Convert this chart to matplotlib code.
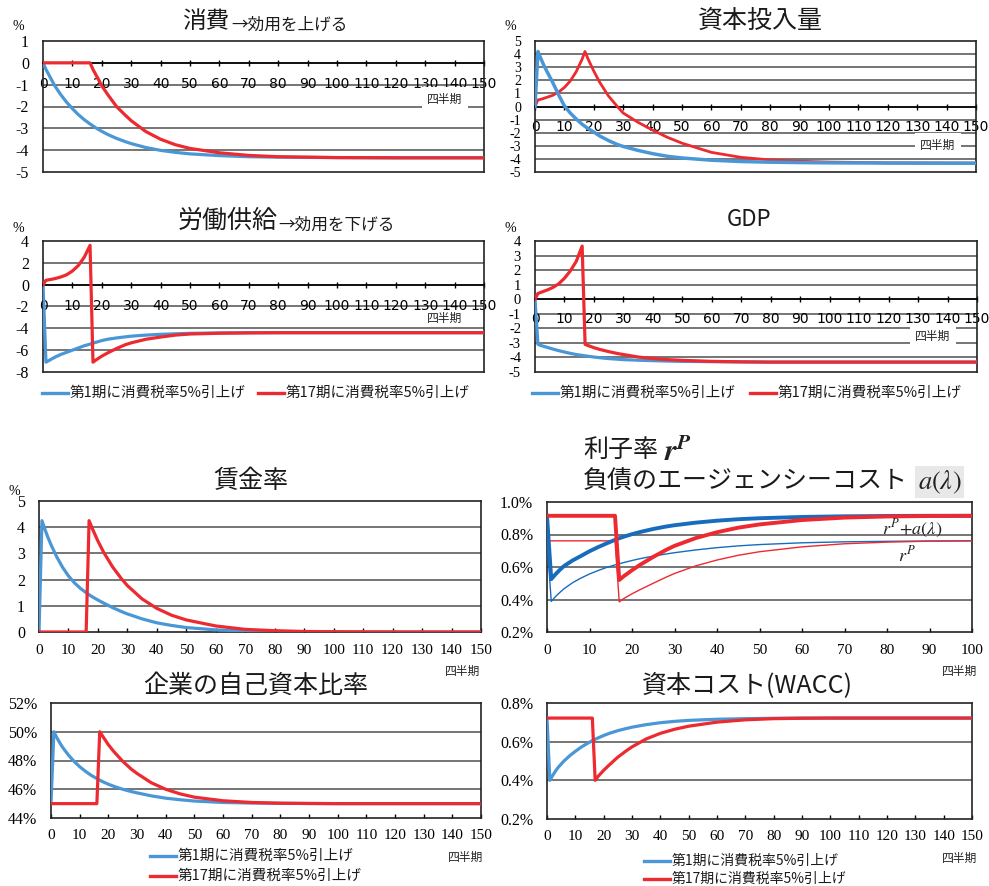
import matplotlib
matplotlib.use("Agg")
import matplotlib.pyplot as plt
import numpy as np
from matplotlib.lines import Line2D

W, H = 989, 886
JP = ["Noto Sans CJK JP", "DejaVu Sans"]
NUM = "Liberation Serif"
BLUE = "#4a97d7"
DBLUE = "#176cbd"
RED = "#ec2a30"
GRID = "#505050"

# quarters
t = [0, 1, 2, 3, 4, 6, 8, 10, 12, 14, 16, 17, 18, 20, 22, 25, 28, 30, 35, 40,
     45, 50, 60, 70, 80, 90, 100, 120, 150]
t100 = t[:27]

legend_1 = "第1期に消費税率5%引上げ"
legend_17 = "第17期に消費税率5%引上げ"

# 消費
cons_1 = [0, -0.3, -0.55, -0.8, -1.05, -1.45, -1.8, -2.1, -2.37, -2.6, -2.8, -2.89, -2.98, -3.14,
          -3.28, -3.46, -3.61, -3.7, -3.88, -4.01, -4.1, -4.17, -4.25, -4.3, -4.32, -4.33, -4.34,
          -4.35, -4.35]
cons_17 = [0, 0, 0, 0, 0, 0, 0, 0, 0, 0, 0, -0.3, -0.55, -1.05, -1.45, -2.0, -2.4, -2.65, -3.15,
           -3.5, -3.75, -3.92, -4.12, -4.24, -4.3, -4.32, -4.34, -4.35, -4.35]
# 資本投入量
cap_1 = [0, 4.2, 3.65, 3.15, 2.7, 1.85, 0.9, 0.05, -0.5, -0.95, -1.35, -1.52, -1.68, -1.95, -2.25,
         -2.6, -2.9, -3.05, -3.35, -3.6, -3.8, -3.93, -4.1, -4.2, -4.25, -4.28, -4.3, -4.32, -4.33]
cap_17 = [0, 0.5, 0.55, 0.62, 0.7, 0.85, 1.1, 1.45, 1.95, 2.65, 3.6, 4.2, 3.65, 2.7, 1.85, 0.8, 0.0,
          -0.5, -1.2, -1.8, -2.35, -2.8, -3.5, -3.88, -4.08, -4.18, -4.24, -4.3, -4.32]
# 労働供給
lab_1 = [0, -7.1, -6.95, -6.8, -6.65, -6.4, -6.2, -6.0, -5.8, -5.6, -5.45, -5.35, -5.28, -5.12, -5.0,
         -4.88, -4.78, -4.72, -4.62, -4.55, -4.5, -4.46, -4.42, -4.4, -4.4, -4.4, -4.4, -4.4, -4.4]
lab_17 = [0, 0.4, 0.45, 0.5, 0.55, 0.7, 0.9, 1.25, 1.75, 2.5, 3.6, -7.1, -6.9, -6.55, -6.25, -5.85,
          -5.5, -5.33, -5.0, -4.8, -4.62, -4.52, -4.45, -4.42, -4.4, -4.4, -4.4, -4.4, -4.4]
# GDP
gdp_1 = [0, -3.1, -3.18, -3.24, -3.3, -3.42, -3.53, -3.63, -3.72, -3.8, -3.86, -3.89, -3.92, -3.97,
         -4.02, -4.08, -4.12, -4.15, -4.19, -4.22, -4.25, -4.27, -4.29, -4.31, -4.32, -4.32, -4.32,
         -4.32, -4.32]
gdp_17 = [0, 0.4, 0.47, 0.55, 0.62, 0.8, 1.05, 1.44, 1.95, 2.6, 3.65, -3.1, -3.18, -3.33, -3.45,
          -3.6, -3.73, -3.8, -3.97, -4.08, -4.15, -4.2, -4.27, -4.3, -4.32, -4.32, -4.32, -4.32, -4.32]
# 賃金率
wage_1 = [0, 4.25, 3.92, 3.62, 3.35, 2.87, 2.47, 2.14, 1.88, 1.67, 1.5, 1.42, 1.35, 1.22, 1.1, 0.93,
          0.78, 0.69, 0.5, 0.35, 0.25, 0.17, 0.08, 0.04, 0.02, 0.01, 0, 0, 0]
wage_17 = [0, 0, 0, 0, 0, 0, 0, 0, 0, 0, 0, 4.25, 3.97, 3.47, 3.03, 2.48, 2.03, 1.77, 1.26, 0.9, 0.64,
           0.46, 0.23, 0.1, 0.05, 0.02, 0.01, 0, 0]
# 利子率 r^P + a(λ) (thick) and r^P (thin), %
ra_1 = [0.915, 0.525, 0.555, 0.582, 0.606, 0.64, 0.668, 0.697, 0.722, 0.745, 0.767, 0.777, 0.786,
        0.802, 0.816, 0.834, 0.849, 0.857, 0.873, 0.885, 0.894, 0.9, 0.908, 0.912, 0.914, 0.915, 0.915]
ra_17 = [0.915, 0.915, 0.915, 0.915, 0.915, 0.915, 0.915, 0.915, 0.915, 0.915, 0.915, 0.52, 0.542,
         0.58, 0.615, 0.662, 0.705, 0.73, 0.778, 0.814, 0.842, 0.862, 0.889, 0.904, 0.911, 0.914, 0.915]
rp_1 = [0.761, 0.388, 0.418, 0.443, 0.466, 0.503, 0.532, 0.557, 0.578, 0.597, 0.613, 0.62, 0.627,
        0.64, 0.652, 0.667, 0.68, 0.688, 0.705, 0.719, 0.73, 0.738, 0.749, 0.755, 0.758, 0.76, 0.761]
rp_17 = [0.761, 0.761, 0.761, 0.761, 0.761, 0.761, 0.761, 0.761, 0.761, 0.761, 0.761, 0.385, 0.405,
         0.435, 0.462, 0.5, 0.537, 0.56, 0.607, 0.643, 0.672, 0.694, 0.724, 0.743, 0.753, 0.759, 0.761]
# 企業の自己資本比率, %
eq_1 = [45.0, 50.0, 49.6, 49.25, 48.93, 48.4, 47.95, 47.57, 47.25, 46.97, 46.74, 46.63, 46.53, 46.35,
        46.2, 46.0, 45.84, 45.75, 45.54, 45.38, 45.27, 45.18, 45.08, 45.04, 45.02, 45.01, 45.0, 45.0,
        45.0]
eq_17 = [45.0, 45.0, 45.0, 45.0, 45.0, 45.0, 45.0, 45.0, 45.0, 45.0, 45.0, 50.0, 49.7, 49.1, 48.6,
         47.95, 47.4, 47.1, 46.45, 46.0, 45.68, 45.45, 45.2, 45.08, 45.03, 45.01, 45.0, 45.0, 45.0]
# 資本コスト(WACC), %
wacc_1 = [0.722, 0.40, 0.425, 0.448, 0.468, 0.5, 0.527, 0.55, 0.571, 0.589, 0.605, 0.612, 0.619,
          0.632, 0.643, 0.657, 0.668, 0.675, 0.688, 0.698, 0.705, 0.71, 0.716, 0.719, 0.721, 0.722,
          0.722, 0.722, 0.722]
wacc_17 = [0.722, 0.722, 0.722, 0.722, 0.722, 0.722, 0.722, 0.722, 0.722, 0.722, 0.722, 0.40, 0.42,
           0.452, 0.48, 0.52, 0.553, 0.573, 0.614, 0.643, 0.664, 0.68, 0.701, 0.713, 0.719, 0.721,
           0.722, 0.722, 0.722]


def fx(x):
    return x / W


def fy(y):
    return 1 - y / H


def make_axes(fig, box, xmax, ylim, ystep, yfmt, zero_axis, xpad, ysize=11.5):
    l, top, r, b = box
    ax = fig.add_axes([fx(l), fy(b), (r - l) / W, (b - top) / H])
    ax.set_xlim(0, xmax)
    ax.set_ylim(*ylim)
    yt = np.arange(ylim[0], ylim[1] + ystep / 2, ystep)
    ax.set_yticks(yt)
    ax.set_yticklabels([yfmt(v) for v in yt], family=NUM, fontsize=ysize)
    ax.set_xticks(np.arange(0, xmax + 1, 10))
    ax.set_xticklabels([str(v) for v in range(0, xmax + 1, 10)], family=NUM, fontsize=11)
    for v in yt[1:-1]:
        ax.axhline(v, color=GRID, lw=1.1, zorder=1)
    for s in ax.spines.values():
        s.set_color("#222222")
        s.set_linewidth(1.2)
    ax.tick_params(axis="y", length=0, pad=10)
    if zero_axis:
        ax.spines["bottom"].set_position(("data", 0))
        ax.spines["bottom"].set_color("black")
        ax.axhline(ylim[0], color="#222222", lw=1.2, clip_on=False, zorder=1)
        ax.tick_params(axis="x", direction="inout", length=5, width=1, pad=xpad)
    else:
        ax.tick_params(axis="x", direction="in", length=3, width=1, pad=xpad)
    return ax


def title(x, y, s, size, ha="left", family=JP):
    fig.text(fx(x), fy(y), s, fontsize=size, ha=ha, va="center", family=family, color="#1a1a1a")


def label_q(x, y, box=False):
    kw = {}
    if box:
        kw["bbox"] = dict(boxstyle="square,pad=0.45", fc="white", ec="none")
    fig.text(fx(x), fy(y), "四半期", fontsize=8.5, ha="center", va="center", family=JP,
             color="#222222", zorder=5, **kw)


def legend_row(x, y, color, text, size=10.5):
    fig.add_artist(Line2D([fx(x), fx(x + 26)], [fy(y), fy(y)], transform=fig.transFigure,
                          color=color, lw=2.4))
    fig.text(fx(x + 28), fy(y), text, fontsize=size, ha="left", va="center", family=JP,
             color="#1a1a1a")


fig = plt.figure(figsize=(W / 100, H / 100), dpi=100)
ints = lambda v: "%d" % round(v)

# 消費
ax = make_axes(fig, (43, 41, 484, 172), 150, (-5, 1), 1, ints, True, 8)
ax.plot(t, cons_1, color=BLUE, lw=2.3, zorder=3)
ax.plot(t, cons_17, color=RED, lw=2.3, zorder=3)
title(182, 21, "消費", 17)
title(231, 25, "→効用を上げる", 12)
fig.text(fx(18), fy(27), "%", fontsize=10, family=NUM, ha="center", va="center")
label_q(445, 99, box=True)

# 資本投入量
ax = make_axes(fig, (535, 41, 976, 172), 150, (-5, 5), 1, ints, True, 7, ysize=10)
ax.plot(t, cap_17, color=RED, lw=2.0, zorder=3)
ax.plot(t, cap_1, color=BLUE, lw=2.5, zorder=4)
title(760, 21, "資本投入量", 18, ha="center")
fig.text(fx(510), fy(27), "%", fontsize=10, family=NUM, ha="center", va="center")
label_q(938, 145, box=True)

# 労働供給
ax = make_axes(fig, (43, 241, 484, 372), 150, (-8, 4), 2, ints, True, 8)
ax.plot(t, lab_1, color=BLUE, lw=2.3, zorder=3)
ax.plot(t, lab_17, color=RED, lw=2.3, zorder=3)
title(178, 221, "労働供給", 18)
title(278, 225, "→効用を下げる", 12)
fig.text(fx(18), fy(228), "%", fontsize=10, family=NUM, ha="center", va="center")
label_q(445, 318)
legend_row(42, 393, BLUE, legend_1)
legend_row(258, 393, RED, legend_17)

# GDP
ax = make_axes(fig, (535, 241, 977, 372), 150, (-5, 4), 1, ints, True, 7, ysize=10.5)
ax.plot(t, gdp_1, color=BLUE, lw=2.3, zorder=3)
ax.plot(t, gdp_17, color=RED, lw=2.3, zorder=3)
title(749, 220, "GDP", 16, ha="center")
fig.text(fx(510), fy(228), "%", fontsize=10, family=NUM, ha="center", va="center")
label_q(933, 336, box=True)
legend_row(532, 393, BLUE, legend_1)
legend_row(750, 393, RED, legend_17)

# 賃金率
ax = make_axes(fig, (39, 501, 481, 632), 150, (0, 5), 1, ints, False, 9)
ax.plot(t, wage_1, color=BLUE, lw=2.3, zorder=3)
ax.plot(t, wage_17, color=RED, lw=2.3, zorder=3)
title(251, 481, "賃金率", 18, ha="center")
fig.text(fx(14), fy(492), "%", fontsize=10, family=NUM, ha="center", va="center")
label_q(463, 671)

# 利子率 / エージェンシーコスト
pct1 = lambda v: "%.1f%%" % v
ax = make_axes(fig, (547, 502, 972, 632), 100, (0.2, 1.0), 0.2, pct1, False, 9)
ax.plot(t100, rp_1, color=DBLUE, lw=1.0, zorder=3)
ax.plot(t100, rp_17, color=RED, lw=1.0, zorder=3)
ax.plot(t100, ra_1, color=DBLUE, lw=2.8, zorder=4)
ax.plot(t100, ra_17, color=RED, lw=2.8, zorder=4)
title(583, 450, "利子率", 18)
fig.text(fx(664), fy(452), r"$\boldsymbol{r}^{\boldsymbol{P}}$", fontsize=22, math_fontfamily="stix",
         ha="left", va="center", color="#222222")
title(583, 482, "負債のエージェンシーコスト", 18)
fig.text(fx(918), fy(482), r"$a(\lambda)$", fontsize=19, math_fontfamily="stix", ha="left",
         va="center", color="#222222",
         bbox=dict(boxstyle="square,pad=0.1", fc="#e8e8e8", ec="none"))
fig.text(fx(912), fy(529), r"$r^P\!+\!a(\lambda)$", fontsize=13, math_fontfamily="stix",
         ha="center", va="center", color="#222222")
fig.text(fx(907), fy(555), r"$r^P$", fontsize=13, math_fontfamily="stix", ha="center",
         va="center", color="#222222")
label_q(960, 671)

# 企業の自己資本比率
pct0 = lambda v: "%d%%" % round(v)
ax = make_axes(fig, (51, 703, 481, 818), 150, (44, 52), 2, pct0, False, 8)
ax.plot(t, eq_1, color=BLUE, lw=2.3, zorder=3)
ax.plot(t, eq_17, color=RED, lw=2.3, zorder=3)
title(256, 686, "企業の自己資本比率", 18, ha="center")
label_q(466, 857)
legend_row(150, 856, BLUE, legend_1)
legend_row(150, 876, RED, legend_17)

# 資本コスト(WACC)
ax = make_axes(fig, (547, 703, 972, 819), 150, (0.2, 0.8), 0.2, pct1, False, 8)
ax.plot(t, wacc_1, color=BLUE, lw=2.3, zorder=3)
ax.plot(t, wacc_17, color=RED, lw=2.3, zorder=3)
title(747, 685, "資本コスト(WACC)", 18, ha="center")
label_q(960, 858)
legend_row(644, 861, BLUE, legend_1, size=10)
legend_row(644, 879, RED, legend_17, size=10)

fig.savefig("out.png", dpi=100)
